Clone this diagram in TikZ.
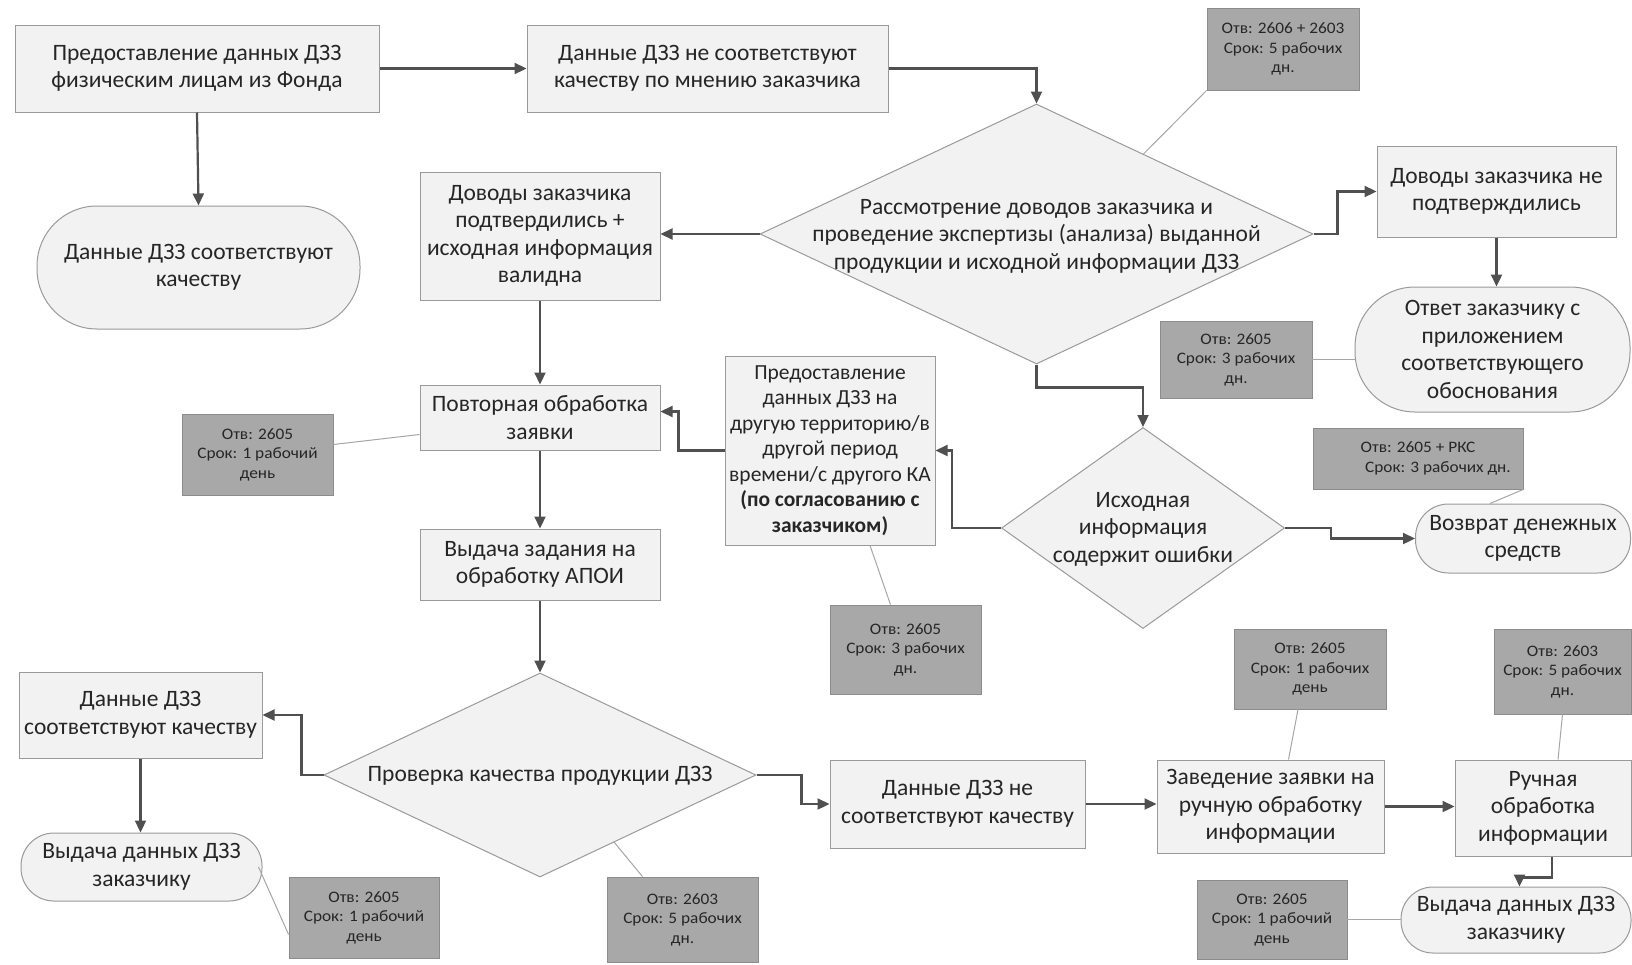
\documentclass[tikz,border=0pt]{standalone}
\usepackage{fontspec}
\setmainfont{Carlito}
\newfontfamily\notefont[FakeStretch=1.08]{Carlito}
\usetikzlibrary{arrows.meta,shapes.geometric}
\definecolor{boxfill}{HTML}{F2F2F2}
\definecolor{boxline}{HTML}{9A9A9A}
\definecolor{notefill}{HTML}{A8A8A8}
\definecolor{notedraw}{HTML}{8C8C8C}
\definecolor{conn}{HTML}{505050}
\definecolor{txt}{HTML}{262626}
\tikzset{
 procbox/.style={draw=boxline, fill=boxfill, line width=1pt, align=center, inner sep=0pt, text=txt, font=\fontsize{23.5}{27.5}\selectfont},
 stadium/.style={procbox, rounded corners=#1},
 notebox/.style={draw=notedraw, fill=notefill, line width=0.8pt, align=center, inner sep=0pt, text=txt, font=\notefont\fontsize{16}{19.5}\selectfont},
 decision/.style={draw=boxline, fill=boxfill, line width=1pt, diamond, inner sep=0pt},
 dlabel/.style={align=center, inner sep=0pt, text=txt, font=\fontsize{23.5}{27.5}\selectfont},
 flow/.style={draw=conn, line width=2.2pt, -{Triangle[length=12pt,width=11pt]}},
 notelink/.style={draw=black!35, line width=1pt},
}
\begin{document}
\begin{tikzpicture}[x=1pt,y=-1pt]
\useasboundingbox (0,0) rectangle (1632,964);
\fill[white] (0,0) rectangle (1632,964);

% top row
\node[procbox, minimum width=364pt, minimum height=87pt] (A) at (197,68.5) {Предоставление данных ДЗЗ\\физическим лицам из Фонда};
\node[procbox, minimum width=361pt, minimum height=87pt] (B) at (707.5,68.5) {Данные ДЗЗ не соответствуют\\качеству по мнению заказчика};
\node[stadium=60pt, minimum width=323pt, minimum height=123pt] (C) at (198.5,267.5) {Данные ДЗЗ соответствуют\\качеству};

\node[decision, minimum width=553pt, minimum height=260pt] (D) at (1036.5,234) {};
\node[dlabel] (Dt) at (1036.5,236) {Рассмотрение доводов заказчика и\\проведение экспертизы (анализа) выданной\\продукции и исходной информации ДЗЗ};

\node[procbox, minimum width=240pt, minimum height=128pt] (E) at (540,236) {Доводы заказчика\\подтвердились +\\исходная информация\\валидна};
\node[procbox, minimum width=239pt, minimum height=91pt] (F) at (1496.5,191.5) {Доводы заказчика не\\подтверждились};
\node[stadium=60pt, minimum width=275pt, minimum height=125pt] (G) at (1492.5,349.5) {Ответ заказчику с\\приложением\\соответствующего\\обоснования};

\node[notebox, minimum width=152pt, minimum height=82pt] (N1) at (1283,49) {Отв: 2606 + 2603\\Срок: 5 рабочих\\дн.};
\node[notebox, minimum width=152pt, minimum height=77pt] (N2) at (1236,359.5) {Отв: 2605\\Срок: 3 рабочих\\дн.};

% middle
\node[procbox, minimum width=240pt, minimum height=65pt] (H) at (540,417.5) {Повторная обработка\\заявки};
\node[notebox, minimum width=151pt, minimum height=81pt] (N3) at (257.5,454.5) {Отв: 2605\\Срок: 1 рабочий\\день};
\node[procbox, minimum width=210pt, minimum height=189pt, font=\fontsize{21.5}{25.5}\selectfont] (I) at (830,450.5) {Предоставление\\данных ДЗЗ на\\другую территорию/в\\другой период\\времени/с другого КА\\\textbf{(по согласованию с}\\\textbf{заказчиком)}};
\node[decision, minimum width=283pt, minimum height=201pt] (J) at (1143,528) {};
\node[dlabel] (Jt) at (1143,529) {Исходная\\информация\\содержит ошибки};
\node[notebox, minimum width=210pt, minimum height=61pt] (N4) at (1418,458.5) {Отв: 2605 + РКС\\\hspace*{40pt}Срок: 3 рабочих дн.};
\node[stadium=33pt, minimum width=215pt, minimum height=69pt] (K) at (1523,538.5) {Возврат денежных\\средств};
\node[procbox, minimum width=240pt, minimum height=71pt] (L) at (540,564.5) {Выдача задания на\\обработку АПОИ};
\node[notebox, minimum width=151pt, minimum height=89pt] (N5) at (905.5,649.5) {Отв: 2605\\Срок: 3 рабочих\\дн.};

% bottom
\node[procbox, minimum width=243pt, minimum height=86pt] (M) at (140.5,715) {Данные ДЗЗ\\соответствуют качеству};
\node[decision, minimum width=432pt, minimum height=204pt] (P) at (540,775) {};
\node[dlabel] (Pt) at (540,776) {Проверка качества продукции ДЗЗ};
\node[stadium=33pt, minimum width=241pt, minimum height=68pt] (Q) at (141.5,867) {Выдача данных ДЗЗ\\заказчику};
\node[notebox, minimum width=150pt, minimum height=81pt] (N6) at (364,917.5) {Отв: 2605\\Срок: 1 рабочий\\день};
\node[notebox, minimum width=151pt, minimum height=85pt] (N7) at (682.5,919.5) {Отв: 2603\\Срок: 5 рабочих\\дн.};
\node[procbox, minimum width=255pt, minimum height=88pt] (R) at (957.5,804) {Данные ДЗЗ не\\соответствуют качеству};
\node[procbox, minimum width=227pt, minimum height=93pt] (S) at (1270.5,806.5) {Заведение заявки на\\ручную обработку\\информации};
\node[notebox, minimum width=152pt, minimum height=80pt] (N8) at (1310,669) {Отв: 2605\\Срок: 1 рабочих\\день};
\node[procbox, minimum width=176pt, minimum height=96pt] (T) at (1543,808) {Ручная\\обработка\\информации};
\node[notebox, minimum width=137pt, minimum height=85pt] (N9) at (1562.5,671.5) {Отв: 2603\\Срок: 5 рабочих\\дн.};
\node[stadium=32pt, minimum width=230pt, minimum height=66pt] (U) at (1516,920) {Выдача данных ДЗЗ\\заказчику};
\node[notebox, minimum width=150pt, minimum height=79pt] (N10) at (1272,919.5) {Отв: 2605\\Срок: 1 рабочий\\день};

% flow connectors
\draw[flow] (A.east) -- (B.west);
\draw[flow] (B.east) -| (D.north);
\draw[flow] (A.south) -- (C.north);
\draw[flow] (D.west) -- (D.west -| E.east);
\draw[flow] (D.east) -- ++(24,0) |- (F.west);
\draw[flow] (F.south) -- (F.south |- G.north);
\draw[flow] (D.south) -- ++(0,23) -| (J.north);
\draw[flow] (E.south) -- (H.north);
\draw[flow] (J.west) -- ++(-49,0) |- (I.east);
\draw[flow] (I.west) -- ++(-46,0) |- ([yshift=6pt]H.east);
\draw[flow] (J.east) -- ++(46,0) |- (K.west);
\draw[flow] (H.south) -- (L.north);
\draw[flow] (L.south) -- (P.north);
\draw[flow] (P.west) -- ++(-22,0) |- (M.east);
\draw[flow] (M.south) -- (M.south |- Q.north);
\draw[flow] (P.east) -- ++(45,0) |- (R.west);
\draw[flow] (R.east) -- (R.east -| S.west);
\draw[flow] (S.east) -- (S.east -| T.west);
\draw[flow] ([xshift=9pt]T.south) -- ++(0,21) -| ([xshift=3.5pt]U.north);

% note links
\coordinate (d1) at (1143,154.5);
\draw[notelink] (N1.south west) -- (d1);
\draw[notelink] (N2.east) -- (G.west |- N2.east);
\draw[notelink] ([yshift=10pt]N3.east) -- ([yshift=-17pt]H.west);
\draw[notelink] (N4.south east) -- ([xshift=-33pt]K.north);
\draw[notelink] ([xshift=40pt]I.south) -- ([xshift=-15pt]N5.north);
\draw[notelink] ([xshift=-4pt]Q.east) -- ([yshift=-17pt]N6.west);
\coordinate (p1) at (614,842);
\draw[notelink] (p1) -- ([xshift=-40pt]N7.north);
\draw[notelink] ([xshift=-12pt]N8.south) -- ([xshift=18pt]S.north);
\draw[notelink] (N9.south) -- ([xshift=15pt]T.north);
\draw[notelink] (N10.east) -- (U.west |- N10.east);
\end{tikzpicture}
\end{document}
